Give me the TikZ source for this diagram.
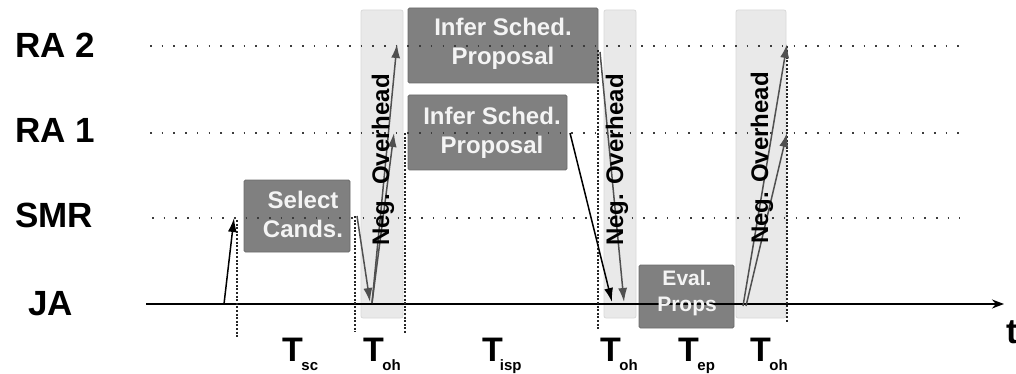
\documentclass[tikz,border=0pt]{standalone}
\usepackage{fontspec}
\setmainfont{Liberation Sans}
\usetikzlibrary{arrows.meta}
\definecolor{bandfill}{HTML}{E9E9E9}
\definecolor{banddraw}{HTML}{D8D8D8}
\definecolor{boxfill}{HTML}{808080}
\definecolor{boxdraw}{HTML}{6C6C6C}
\definecolor{boxtext}{HTML}{F4F4F4}
\definecolor{sigline}{HTML}{505050}
\definecolor{dotline}{HTML}{3C3C3C}
\newcommand{\tlab}[2]{{\fontsize{34}{34}\selectfont T}\kern#1\raisebox{-9pt}{\fontsize{15}{15}\selectfont #2}}

\begin{document}
\begin{tikzpicture}[x=1pt,y=-1pt,
  lane/.style={font=\fontsize{35}{35}\selectfont\bfseries, anchor=base west, inner sep=0},
  band/.style={fill=bandfill, draw=banddraw, line width=0.8pt, rounded corners=2pt, inner sep=0},
  taskbox/.style={fill=boxfill, draw=boxdraw, line width=0.8pt, rounded corners=1.5pt, inner sep=0},
  boxtxt/.style={text=boxtext, font=\fontsize{24}{29}\selectfont\bfseries, align=center, inner sep=0},
  negoh/.style={rotate=90, font=\fontsize{24}{24}\selectfont\bfseries, inner sep=0},
  lanedots/.style={dotline, line width=1.6pt, dash pattern=on 1.6pt off 10.1pt},
  vdots/.style={black!85, line width=1.9pt, dash pattern=on 2pt off 1.6pt},
  sig/.style={sigline, line width=1.5pt, -{Latex[length=14pt,width=9pt]}},
  period/.style={font=\bfseries, anchor=base west, inner sep=0}
]
\useasboundingbox (0,0) rectangle (1016,374);

% lane names
\node[lane] (lra2) at (15,58) {RA 2};
\node[lane] (lra1) at (15,143) {RA 1};
\node[lane] (lsmr) at (15,227) {SMR};
\node[lane] (lja)  at (28,315) {JA};

% overhead bands
\node[band, minimum width=42, minimum height=308] (b1) at (382,164) {};
\node[band, minimum width=32, minimum height=308] (b2) at (620,164) {};
\node[band, minimum width=50, minimum height=308] (b3) at (761,164) {};

% task boxes
\node[taskbox, minimum width=106, minimum height=72] (sel)  at (297,216) {};
\node[taskbox, minimum width=190, minimum height=75] (inf2) at (503,45.5) {};
\node[taskbox, minimum width=159, minimum height=75] (inf1) at (487.5,132.5) {};
\node[taskbox, minimum width=95,  minimum height=63] (ev)   at (686.5,296.5) {};

% lanes and time axis
\coordinate (r2a) at (150,46);  \coordinate (r2b) at (960,46);
\coordinate (r1a) at (150,133); \coordinate (r1b) at (960,133);
\coordinate (sma) at (152,218); \coordinate (smb) at (960,218);
\coordinate (axa) at (146,304); \coordinate (axb) at (1004,304);
\draw[lanedots] (r2a) -- (r2b);
\draw[lanedots] (r1a) -- (r1b);
\draw[lanedots] (sma) -- (smb);
\draw[black, line width=1.6pt, -{Stealth[length=12pt,width=9pt]}] (axa) -- (axb);
\node[font=\fontsize{35}{35}\selectfont\bfseries, anchor=base west, inner sep=0] (tlbl) at (1006,343) {t};

% period boundaries
\coordinate (v1a) at (237,220); \coordinate (v1b) at (237,337);
\coordinate (v2a) at (355,216); \coordinate (v2b) at (355,332);
\coordinate (v3a) at (405,133); \coordinate (v3b) at (405,333);
\coordinate (v4a) at (598,50);  \coordinate (v4b) at (598,330);
\coordinate (v5a) at (787,46);  \coordinate (v5b) at (787,322);
\draw[vdots] (v1a) -- (v1b);
\draw[vdots] (v2a) -- (v2b);
\draw[vdots] (v3a) -- (v3b);
\draw[vdots] (v4a) -- (v4b);
\draw[vdots] (v5a) -- (v5b);

% messages
\coordinate (m1s) at (224,304); \coordinate (m1e) at (234,218);
\coordinate (m2s) at (357,216); \coordinate (m2e) at (370,302);
\coordinate (m3s) at (372,303); \coordinate (m3e) at (397,44);
\coordinate (m4s) at (372,303); \coordinate (m4e) at (394,133);
\coordinate (m5s) at (570,133); \coordinate (m5e) at (612,302);
\coordinate (m6s) at (600,52);  \coordinate (m6e) at (624,302);
\coordinate (m7s) at (743,306); \coordinate (m7e) at (787,44);
\coordinate (m8s) at (746,306); \coordinate (m8e) at (787,133);
\draw[sig, black] (m1s) -- (m1e);
\draw[sig] (m2s) -- (m2e);
\draw[sig] (m3s) -- (m3e);
\draw[sig] (m4s) -- (m4e);
\draw[sig, black] (m5s) -- (m5e);
\draw[sig] (m6s) -- (m6e);
\draw[sig] (m7s) -- (m7e);
\draw[sig] (m8s) -- (m8e);

% box captions
\node[boxtxt] (selt)  at (303,214) {Select\\Cands.};
\node[boxtxt] (inf2t) at (503,44) {Infer Sched.\\Proposal};
\node[boxtxt] (inf1t) at (492,133) {Infer Sched.\\Proposal};
\node[boxtxt, font=\fontsize{21}{26}\selectfont\bfseries] (evt) at (687,293) {Eval.\\Props};

% overhead captions
\node[negoh] (n1) at (383,160) {Neg. Overhead};
\node[negoh] (n2) at (617,160) {Neg. Overhead};
\node[negoh] (n3) at (762,158) {Neg. Overhead};

% period names
\node[period] (tsc)  at (282,361) {\tlab{-1.5pt}{sc}};
\node[period] (toh1) at (363,361) {\tlab{-1.5pt}{oh}};
\node[period] (tisp) at (482,361) {\tlab{-3pt}{isp}};
\node[period] (toh2) at (600,361) {\tlab{-1.5pt}{oh}};
\node[period] (tep)  at (678,361) {\tlab{-1.5pt}{ep}};
\node[period] (toh3) at (750,361) {\tlab{-1.5pt}{oh}};
\end{tikzpicture}
\end{document}
